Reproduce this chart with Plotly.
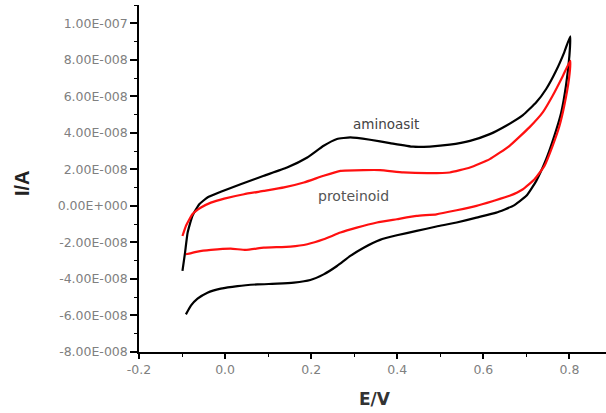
import plotly.graph_objects as go

# aminoasit (black) CV loop: potential (V) and current (units of 1e-8 A)
amino_E = [-0.099, -0.093, -0.087, -0.076, -0.060, -0.041, -0.010, 0.036, 0.090, 0.144, 0.191, 0.229,
           0.260, 0.291, 0.337, 0.383, 0.437, 0.476, 0.522, 0.569, 0.615, 0.653, 0.692, 0.723, 0.746,
           0.769, 0.788, 0.802,
           0.800, 0.792, 0.781, 0.765, 0.746, 0.723, 0.700, 0.669, 0.630, 0.584, 0.538, 0.491, 0.445,
           0.399, 0.360, 0.322, 0.291, 0.260, 0.229, 0.198, 0.160, 0.121, 0.075, 0.029, -0.010, -0.041,
           -0.064, -0.079, -0.091]
amino_I = [-3.56, -2.56, -1.46, -0.55, 0.09, 0.46, 0.77, 1.19, 1.65, 2.10, 2.65, 3.29,
           3.66, 3.75, 3.62, 3.44, 3.24, 3.25, 3.35, 3.56, 3.93, 4.39, 4.97, 5.67, 6.40,
           7.40, 8.41, 9.29,
           8.23, 6.58, 5.12, 3.84, 2.56, 1.37, 0.55, 0.00, -0.37, -0.64, -0.91, -1.13, -1.37,
           -1.61, -1.86, -2.29, -2.74, -3.29, -3.75, -4.06, -4.20, -4.26, -4.30, -4.39, -4.53, -4.75,
           -5.08, -5.45, -5.94]

# proteinoid (red) CV loop
prot_E = [-0.099, -0.091, -0.076, -0.056, -0.033, -0.002, 0.044, 0.090, 0.137, 0.183, 0.229, 0.268,
          0.322, 0.360, 0.414, 0.476, 0.522, 0.569, 0.615, 0.661, 0.707, 0.738, 0.761, 0.785, 0.802,
          0.799, 0.788, 0.777, 0.761, 0.742, 0.719, 0.692, 0.661, 0.623, 0.584, 0.538, 0.491, 0.445,
          0.399, 0.353, 0.306, 0.268, 0.229, 0.191, 0.152, 0.090, 0.048, 0.013, -0.033, -0.064, -0.091]
prot_I = [-1.65, -1.10, -0.46, -0.09, 0.18, 0.40, 0.64, 0.82, 1.01, 1.28, 1.65, 1.92,
          1.96, 1.96, 1.83, 1.79, 1.83, 2.10, 2.56, 3.29, 4.30, 5.12, 6.03, 7.13, 7.95,
          6.95, 5.48, 4.39, 3.29, 2.19, 1.46, 0.91, 0.55, 0.27, 0.00, -0.24, -0.46, -0.55,
          -0.73, -0.91, -1.19, -1.46, -1.83, -2.10, -2.23, -2.29, -2.41, -2.34, -2.41, -2.50, -2.65]

y_tickvals = [-8e-8, -6e-8, -4e-8, -2e-8, 0, 2e-8, 4e-8, 6e-8, 8e-8, 1e-7]
y_ticktext = ["-8.00E-008", "-6.00E-008", "-4.00E-008", "-2.00E-008", "0.00E+000",
              "2.00E-008", "4.00E-008", "6.00E-008", "8.00E-008", "1.00E-007"]
x_tickvals = [-0.2, 0.0, 0.2, 0.4, 0.6, 0.8]
x_ticktext = ["-0.2", "0.0", "0.2", "0.4", "0.6", "0.8"]

TICKFONT = dict(family="DejaVu Sans", size=12.5, color="#808080")

fig = go.Figure()
fig.add_trace(go.Scatter(x=amino_E, y=[v * 1e-8 for v in amino_I], mode="lines",
                         line=dict(color="black", width=2.2, shape="spline", smoothing=0.4),
                         name="aminoasit", showlegend=False))
fig.add_trace(go.Scatter(x=prot_E, y=[v * 1e-8 for v in prot_I], mode="lines",
                         line=dict(color="#ff1010", width=2.2, shape="spline", smoothing=0.4),
                         name="proteinoid", showlegend=False))

fig.add_annotation(x=0.375, y=4.5e-8, text="aminoasit", showarrow=False,
                   font=dict(family="DejaVu Sans", size=13.5, color="#444"))
fig.add_annotation(x=0.298, y=0.53e-8, text="proteinoid", showarrow=False,
                   font=dict(family="DejaVu Sans", size=14, color="#555"))

# axis titles
fig.add_annotation(xref="paper", yref="paper", x=-0.2505, y=0.487, xanchor="center", yanchor="middle",
                   text="<b>I/A</b>", textangle=-90, showarrow=False,
                   font=dict(family="Liberation Sans, Arial", size=20, color="#222"))
fig.add_annotation(xref="paper", yref="paper", x=0.505, y=-0.135, xanchor="center", yanchor="middle",
                   text="<b>E/V</b>", showarrow=False,
                   font=dict(family="DejaVu Sans", size=17, color="#333"))

fig.update_xaxes(range=[-0.2, 0.885], showgrid=False, zeroline=False, showline=True,
                 linecolor="black", linewidth=1.5, ticks="outside", ticklen=5, tickwidth=1.5,
                 tickcolor="black", tickvals=x_tickvals, ticktext=x_ticktext, tickfont=TICKFONT,
                 minor=dict(ticks="outside", ticklen=3, tickwidth=1.2, tickcolor="black", dtick=0.1,
                            tick0=-0.2, showgrid=False))
fig.update_yaxes(range=[-8e-8, 1.1e-7], showgrid=False, zeroline=False, showline=True,
                 linecolor="black", linewidth=1.5, ticks="outside", ticklen=7, tickwidth=1.5,
                 tickcolor="black", tickvals=y_tickvals, ticktext=y_ticktext, tickfont=TICKFONT,
                 minor=dict(ticks="outside", ticklen=3, tickwidth=1.2, tickcolor="black", dtick=1e-8,
                            tick0=-8e-8, showgrid=False))

fig.update_layout(width=606, height=413, margin=dict(l=139, r=0, t=5, b=61),
                  plot_bgcolor="white", paper_bgcolor="white")

fig.write_html("out.html")
